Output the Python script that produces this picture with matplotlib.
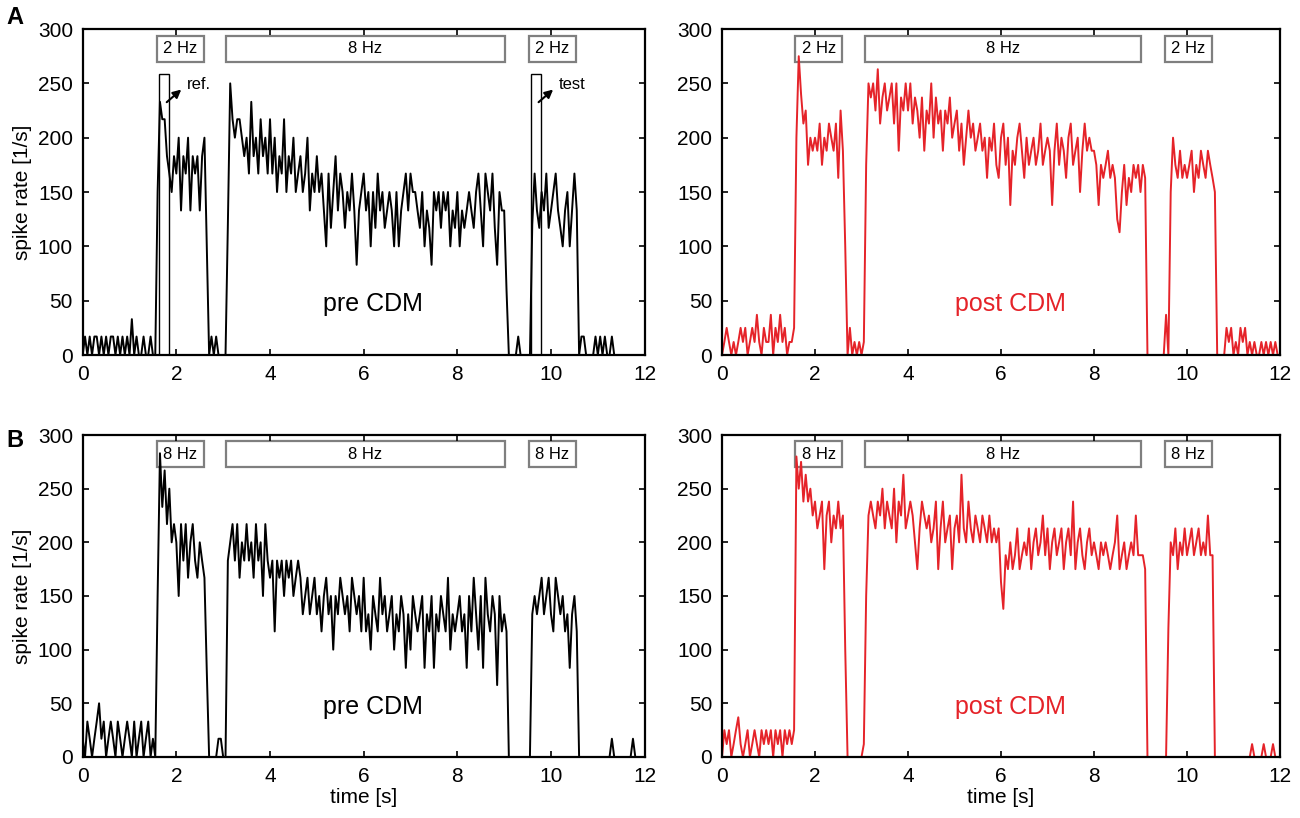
import numpy as np
import matplotlib.pyplot as plt
from matplotlib.patches import Rectangle

plt.rcParams['font.family'] = ['Liberation Sans', 'DejaVu Sans']

DT = 0.05  # Abstand der Stützstellen [s]

# Spikerate [1/s], eine Zeile = eine Sekunde (20 Werte)
pre_a = [
    0, 17, 0, 17, 0, 17, 17, 0, 17, 0, 17, 0, 17, 17, 0, 17, 0, 17, 0, 17,
    0, 33, 0, 17, 0, 0, 17, 0, 0, 17, 0, 0, 150, 233, 217, 217, 183, 167, 150, 183,
    167, 200, 133, 183, 167, 200, 133, 183, 167, 183, 133, 183, 200, 100, 0, 17, 0, 17, 0, 0,
    0, 0, 120, 250, 217, 200, 217, 217, 200, 183, 200, 167, 233, 183, 200, 167, 217, 183, 200, 167,
    217, 167, 200, 150, 183, 167, 217, 150, 183, 167, 200, 150, 167, 183, 150, 167, 200, 133, 167, 150,
    183, 150, 167, 133, 100, 167, 117, 150, 183, 133, 167, 150, 117, 150, 133, 167, 133, 83, 133, 150,
    167, 133, 150, 100, 150, 117, 167, 133, 150, 117, 133, 150, 133, 100, 150, 100, 133, 150, 167, 133,
    167, 150, 150, 133, 117, 150, 100, 133, 117, 83, 150, 133, 150, 117, 150, 133, 150, 100, 133, 117,
    150, 100, 133, 117, 133, 150, 133, 117, 150, 167, 133, 100, 167, 150, 133, 167, 117, 83, 150, 133,
    133, 60, 0, 0, 0, 0, 17, 0, 0, 0, 0, 0, 120, 167, 133, 117, 150, 133, 167, 117,
    133, 150, 167, 133, 117, 100, 133, 150, 100, 133, 167, 133, 0, 17, 17, 0, 0, 0, 0, 17,
    0, 17, 0, 17, 0, 0, 17, 0, 0, 0, 0, 0, 0, 0, 0, 0, 0, 0, 0, 0,
]
post_a = [
    0, 12, 25, 12, 0, 12, 0, 12, 25, 12, 25, 0, 12, 25, 12, 37, 12, 0, 25, 12,
    12, 37, 0, 25, 12, 37, 12, 25, 0, 12, 12, 25, 200, 275, 240, 213, 225, 175, 200, 188,
    200, 188, 213, 175, 200, 188, 213, 200, 188, 213, 163, 225, 188, 100, 0, 25, 0, 12, 0, 12,
    0, 12, 175, 250, 237, 250, 225, 263, 213, 237, 250, 225, 237, 250, 213, 250, 188, 237, 225, 250,
    225, 250, 213, 237, 225, 200, 237, 188, 225, 213, 250, 200, 237, 213, 225, 188, 225, 213, 237, 200,
    213, 225, 188, 213, 175, 200, 225, 200, 213, 188, 200, 213, 188, 200, 163, 200, 188, 213, 175, 163,
    200, 213, 175, 200, 138, 188, 175, 200, 213, 188, 163, 200, 175, 188, 200, 175, 188, 213, 175, 188,
    200, 188, 138, 188, 213, 175, 200, 188, 163, 200, 213, 175, 188, 200, 150, 188, 213, 188, 200, 188,
    188, 175, 138, 175, 163, 175, 188, 163, 175, 163, 125, 113, 150, 175, 138, 163, 150, 175, 163, 175,
    150, 175, 163, 0, 0, 0, 0, 0, 0, 0, 0, 37, 0, 150, 200, 175, 163, 188, 163, 175,
    163, 175, 188, 150, 175, 163, 188, 175, 163, 188, 175, 163, 150, 0, 0, 0, 0, 25, 12, 25,
    0, 12, 0, 25, 12, 25, 0, 12, 0, 12, 0, 0, 12, 0, 12, 0, 12, 0, 12, 0,
]
pre_b = [
    17, 0, 33, 17, 0, 17, 33, 50, 17, 33, 0, 17, 33, 17, 0, 33, 17, 0, 17, 33,
    17, 0, 33, 0, 17, 33, 0, 17, 33, 0, 17, 0, 150, 283, 233, 267, 217, 250, 200, 217,
    200, 150, 217, 183, 217, 167, 200, 217, 183, 167, 200, 183, 167, 80, 0, 0, 0, 0, 17, 17,
    0, 0, 183, 200, 217, 183, 217, 167, 200, 183, 217, 183, 200, 167, 217, 183, 200, 150, 217, 183,
    167, 183, 117, 183, 167, 183, 150, 183, 167, 183, 150, 167, 183, 167, 133, 150, 167, 133, 150, 167,
    133, 150, 117, 150, 167, 133, 150, 100, 150, 133, 167, 150, 133, 150, 117, 167, 150, 133, 150, 117,
    167, 117, 133, 100, 150, 133, 117, 167, 133, 150, 117, 133, 150, 100, 133, 117, 150, 133, 83, 133,
    100, 150, 133, 117, 133, 150, 83, 133, 117, 150, 83, 133, 117, 150, 133, 117, 167, 100, 133, 117,
    133, 150, 117, 133, 83, 150, 117, 167, 133, 100, 150, 83, 167, 133, 117, 150, 133, 67, 150, 117,
    133, 117, 0, 0, 0, 0, 0, 0, 0, 0, 0, 0, 133, 150, 133, 150, 167, 133, 150, 167,
    133, 117, 167, 150, 133, 150, 117, 133, 83, 133, 150, 117, 0, 0, 0, 0, 0, 0, 0, 0,
    0, 0, 0, 0, 0, 0, 17, 0, 0, 0, 0, 0, 0, 0, 0, 17, 0, 0, 0, 0,
]
post_b = [
    0, 25, 12, 25, 0, 12, 25, 37, 12, 0, 12, 25, 0, 12, 25, 12, 0, 25, 12, 25,
    12, 25, 0, 25, 12, 25, 0, 25, 12, 25, 12, 25, 280, 250, 275, 238, 263, 238, 250, 225,
    238, 213, 225, 238, 175, 225, 238, 200, 225, 213, 238, 213, 225, 100, 0, 0, 0, 0, 0, 0,
    0, 12, 150, 225, 238, 225, 213, 238, 225, 250, 213, 238, 225, 213, 250, 200, 238, 225, 263, 213,
    225, 238, 225, 200, 175, 213, 238, 225, 213, 225, 200, 213, 238, 175, 213, 238, 200, 213, 225, 175,
    213, 225, 200, 263, 213, 200, 238, 213, 200, 225, 213, 200, 225, 213, 200, 225, 200, 213, 200, 213,
    163, 138, 188, 175, 200, 175, 188, 213, 175, 188, 200, 188, 213, 175, 200, 213, 188, 200, 225, 188,
    213, 175, 200, 213, 188, 200, 213, 175, 200, 213, 188, 238, 175, 200, 213, 188, 175, 200, 213, 188,
    200, 188, 175, 200, 188, 200, 188, 175, 188, 200, 225, 175, 188, 200, 175, 188, 200, 188, 225, 188,
    188, 188, 175, 0, 0, 0, 0, 0, 0, 0, 0, 0, 120, 200, 188, 213, 175, 200, 188, 213,
    188, 200, 213, 188, 200, 213, 188, 200, 188, 225, 188, 188, 0, 0, 0, 0, 0, 0, 0, 0,
    0, 0, 0, 0, 0, 0, 0, 0, 12, 0, 0, 0, 0, 12, 0, 0, 0, 12, 0, 0,
]

# Reizblöcke
stim_start = [1.58, 3.07, 9.52]
stim_end = [2.58, 9.01, 10.53]
stim_a = ['2 Hz', '8 Hz', '2 Hz']
stim_b = ['8 Hz', '8 Hz', '8 Hz']

# Fenster für ref./test
ref_win = [1.62, 1.84]
test_win = [9.57, 9.78]

BLACK = 'black'
RED = '#e52329'
GREY = '#7f7f7f'

fig = plt.figure(figsize=(13, 8.18), dpi=100)

def panel(rect, rate, farbe, stim, text, xlabel, ylabel):
    ax = fig.add_axes(rect)
    t = np.arange(len(rate)) * DT
    ax.plot(t, rate, color=farbe, lw=1.4)
    ax.set_xlim(0, 12)
    ax.set_ylim(0, 300)
    ax.set_xticks(range(0, 13, 2))
    ax.set_yticks(range(0, 301, 50))
    ax.tick_params(direction='in', top=True, right=True, length=4, width=1.2,
                   labelsize=15, pad=7)
    for s in ax.spines.values():
        s.set_linewidth(1.6)
    for a, b, lab in zip(stim_start, stim_end, stim):
        ax.add_patch(Rectangle((a, 270), b - a, 24, fill=False, ec=GREY, lw=1.6))
        ax.text((a + b) / 2, 282, lab, ha='center', va='center', fontsize=12)
    ax.text(6.2, 47, text, ha='center', va='center', fontsize=18, color=farbe)
    if xlabel:
        ax.set_xlabel('time [s]', fontsize=15, labelpad=2)
    if ylabel:
        ax.set_ylabel('spike rate [1/s]', fontsize=15, labelpad=4)
    return ax

ax1 = panel([0.0636, 0.566, 0.4323, 0.3985], pre_a, BLACK, stim_a, 'pre CDM', False, True)
ax2 = panel([0.5554, 0.566, 0.4292, 0.3985], post_a, RED, stim_a, 'post CDM', False, False)
ax3 = panel([0.0636, 0.0746, 0.4323, 0.3936], pre_b, BLACK, stim_b, 'pre CDM', True, True)
ax4 = panel([0.5554, 0.0746, 0.4292, 0.3936], post_b, RED, stim_b, 'post CDM', True, False)

# Fenster ref. und test
for win, lab, x0 in [(ref_win, 'ref.', 1.75), (test_win, 'test', 9.69)]:
    ax1.add_patch(Rectangle((win[0], 0), win[1] - win[0], 259, fill=False, ec=BLACK, lw=1.0))
    ax1.annotate('', xy=(x0 + 0.4, 246), xytext=(x0, 231),
                 arrowprops=dict(arrowstyle='-|>', color=BLACK, lw=1.5, mutation_scale=12))
    ax1.text(x0 + 0.48, 249, lab, ha='left', va='center', fontsize=12)

fig.text(0.005, 0.978, 'A', fontsize=17, fontweight='bold', va='center')
fig.text(0.005, 0.462, 'B', fontsize=17, fontweight='bold', va='center')

fig.savefig('out.png', dpi=100)
